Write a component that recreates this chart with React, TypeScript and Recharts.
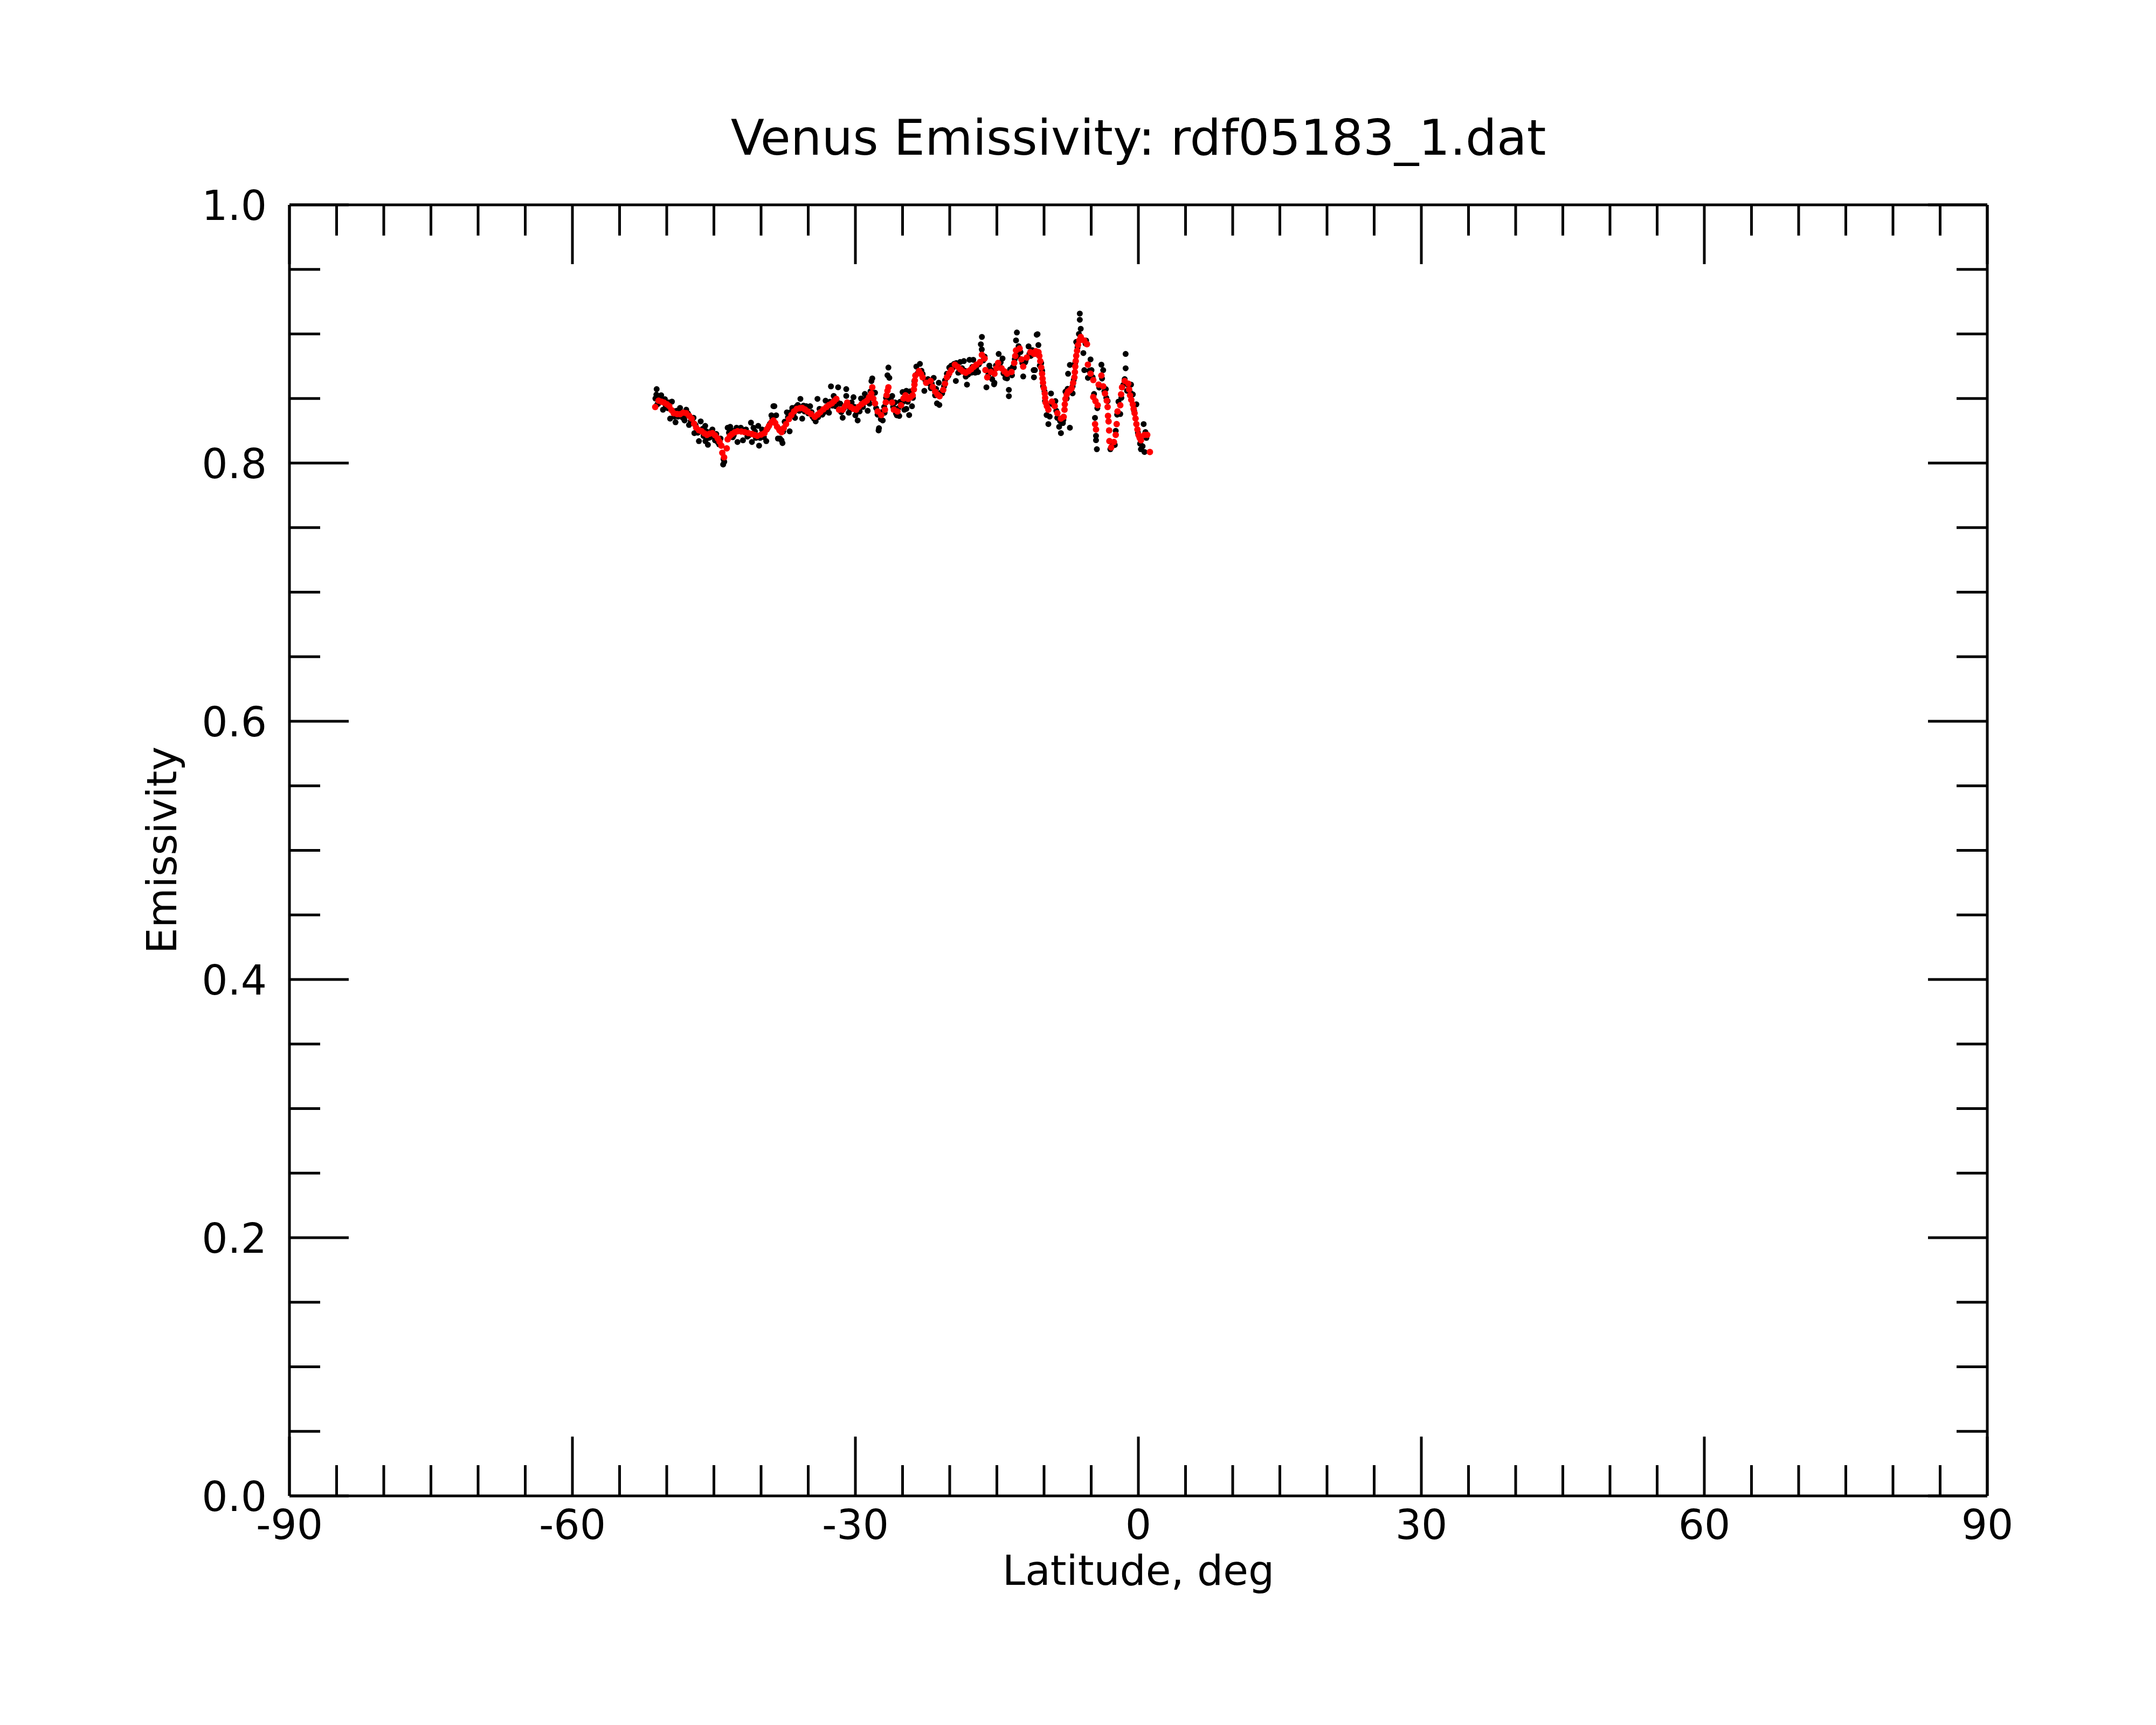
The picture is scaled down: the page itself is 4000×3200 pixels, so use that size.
import { ScatterChart, Scatter, XAxis, YAxis } from 'recharts';

// latitude (deg), emissivity — raw footprints (black)
const rawPoints: [number, number][] = [
  [-51.07, 0.8573], [-51.1, 0.853], [-51.2, 0.85], [-50.9, 0.846], [-50.59, 0.8525], [-50.4, 0.8413],
  [-50.1, 0.844], [-49.8, 0.847], [-49.45, 0.8476], [-49.64, 0.8344], [-49.07, 0.8316], [-48.8, 0.836],
  [-48.59, 0.8427], [-48.3, 0.835], [-47.93, 0.8413], [-48.11, 0.833], [-47.64, 0.8295], [-47.16, 0.8351],
  [-47.07, 0.8232], [-46.8, 0.826], [-46.59, 0.817], [-46.4, 0.8323], [-46.1, 0.821], [-45.92, 0.8288],
  [-45.9, 0.817], [-45.64, 0.8142], [-45.4, 0.82], [-45.16, 0.826], [-44.88, 0.8176], [-44.6, 0.8162],
  [-44.3, 0.819], [-44.02, 0.7989], [-43.9, 0.801], [-43.98, 0.803], [-43.54, 0.8274], [-43.27, 0.8281],
  [-43.0, 0.82], [-42.6, 0.8274], [-42.5, 0.8163], [-42.15, 0.8274], [-41.92, 0.8176], [-41.6, 0.826],
  [-41.3, 0.8215], [-41.07, 0.8313], [-40.97, 0.8163], [-40.8, 0.8274], [-40.55, 0.8195], [-40.3, 0.8288],
  [-40.21, 0.8135], [-39.9, 0.826], [-39.7, 0.82], [-39.45, 0.817], [-39.3, 0.827], [-38.69, 0.8441],
  [-38.9, 0.837], [-38.4, 0.837], [-38.21, 0.819], [-38.59, 0.8441], [-37.83, 0.8176], [-37.73, 0.8155],
  [-38.0, 0.819], [-37.5, 0.832], [-37.26, 0.8393], [-36.97, 0.8246], [-36.69, 0.8427], [-36.4, 0.835],
  [-36.1, 0.845], [-35.83, 0.8497], [-35.64, 0.8344], [-35.4, 0.84], [-35.2, 0.844], [-34.8, 0.844],
  [-34.55, 0.836], [-34.21, 0.8323], [-34.02, 0.8497], [-33.8, 0.842], [-33.5, 0.8375], [-33.16, 0.8483],
  [-32.95, 0.842], [-32.8, 0.839], [-32.59, 0.8594], [-32.3, 0.852], [-31.83, 0.8587], [-32.1, 0.844],
  [-31.6, 0.846], [-31.35, 0.8351], [-30.97, 0.8573], [-30.97, 0.852], [-30.7, 0.839], [-30.4, 0.847],
  [-30.2, 0.851], [-30.0, 0.837], [-29.76, 0.833], [-29.55, 0.84], [-29.4, 0.85], [-29.0, 0.8535],
  [-28.7, 0.8405], [-28.5, 0.846], [-28.21, 0.8656], [-28.3, 0.8635], [-27.92, 0.8545], [-27.54, 0.8253],
  [-27.5, 0.827], [-27.3, 0.834], [-27.1, 0.833], [-26.9, 0.839], [-26.5, 0.874], [-26.6, 0.868],
  [-26.4, 0.866], [-26.1, 0.852], [-25.8, 0.847], [-25.6, 0.837], [-25.35, 0.8365], [-25.0, 0.855],
  [-24.6, 0.856], [-24.6, 0.842], [-24.81, 0.8413], [-24.3, 0.8372], [-24.0, 0.844], [-24.2, 0.8555],
  [-23.54, 0.8747], [-23.16, 0.8768], [-22.87, 0.869], [-22.69, 0.8559], [-22.3, 0.865], [-22.0, 0.858],
  [-21.7, 0.866], [-21.55, 0.8525], [-21.16, 0.8622], [-21.35, 0.8462], [-21.1, 0.845], [-20.8, 0.854],
  [-20.5, 0.864], [-20.3, 0.8692], [-20.05, 0.874], [-19.83, 0.8755], [-19.54, 0.8768], [-19.35, 0.8636],
  [-19.1, 0.87], [-18.88, 0.8783], [-18.5, 0.879], [-18.17, 0.8608], [-18.3, 0.867], [-17.9, 0.88],
  [-17.7, 0.87], [-17.5, 0.88], [-17.3, 0.87], [-17.0, 0.8705], [-16.59, 0.8977], [-16.7, 0.892],
  [-16.6, 0.888], [-16.3, 0.8825], [-16.11, 0.8587], [-15.8, 0.8755], [-15.5, 0.865], [-15.26, 0.8622],
  [-15.3, 0.861], [-14.81, 0.8845], [-14.6, 0.878], [-14.4, 0.881], [-14.1, 0.866], [-13.92, 0.8656],
  [-13.73, 0.8567], [-13.73, 0.8518], [-13.4, 0.868], [-13.2, 0.874], [-12.88, 0.9011], [-12.97, 0.895],
  [-12.8, 0.883], [-12.5, 0.886], [-12.21, 0.8671], [-12.0, 0.878], [-11.64, 0.8904], [-11.4, 0.883],
  [-11.1, 0.872], [-11.07, 0.8664], [-10.78, 0.8994], [-10.69, 0.8998], [-10.6, 0.8914], [-10.97, 0.872],
  [-10.3, 0.8775], [-10.1, 0.8594], [-9.9, 0.848], [-9.73, 0.8372], [-9.54, 0.8302], [-9.4, 0.836],
  [-9.26, 0.8539], [-8.8, 0.848], [-8.6, 0.835], [-8.4, 0.8281], [-8.21, 0.8232], [-8.0, 0.831],
  [-7.73, 0.8553], [-7.6, 0.85], [-7.26, 0.8274], [-7.45, 0.8692], [-7.26, 0.876], [-6.97, 0.8595],
  [-6.97, 0.854], [-6.59, 0.8938], [-6.21, 0.9158], [-6.21, 0.911], [-6.11, 0.904], [-6.3, 0.9],
  [-5.83, 0.8852], [-5.54, 0.8949], [-5.07, 0.8803], [-5.73, 0.872], [-5.35, 0.866], [-4.97, 0.872],
  [-4.49, 0.8211], [-4.49, 0.8177], [-4.4, 0.8107], [-4.6, 0.835], [-3.92, 0.8762], [-3.73, 0.872],
  [-3.45, 0.8573], [-3.26, 0.848], [-2.97, 0.8107], [-2.8, 0.813], [-2.5, 0.814], [-2.4, 0.825],
  [-2.11, 0.8476], [-1.92, 0.838], [-1.35, 0.8845], [-1.35, 0.8734], [-1.45, 0.865], [-1.2, 0.856],
  [-0.78, 0.8608], [-0.59, 0.8532], [-0.21, 0.8455], [0.56, 0.8302], [0.27, 0.8107], [0.65, 0.8086],
  [0.18, 0.815], [0.75, 0.824], [0.45, 0.813],
  // footprints hugging the smoothed track
  [-51.0, 0.8455], [-50.7, 0.8505], [-50.2, 0.8495], [-49.9, 0.8425], [-49.35, 0.8405], [-49.2, 0.836],
  [-48.95, 0.8405], [-48.45, 0.8395], [-48.0, 0.8365], [-47.75, 0.8385], [-47.45, 0.8325], [-47.25, 0.8315],
  [-46.95, 0.8295], [-46.7, 0.8235], [-46.2, 0.8265], [-45.8, 0.8245], [-45.55, 0.8195], [-45.3, 0.8245],
  [-45.0, 0.8205], [-44.75, 0.8225], [-44.45, 0.8145], [-43.4, 0.8235], [-43.15, 0.8255], [-42.9, 0.8215],
  [-42.3, 0.8265], [-41.8, 0.8255], [-41.45, 0.8205], [-40.65, 0.8245], [-40.1, 0.8195], [-39.55, 0.8255],
  [-39.05, 0.8305], [-38.8, 0.8345], [-38.1, 0.8265], [-37.65, 0.8245], [-37.15, 0.8355], [-36.85, 0.8395],
  [-36.55, 0.8385], [-36.3, 0.8435], [-35.95, 0.8405], [-35.5, 0.8445], [-35.0, 0.8385], [-34.65, 0.8395],
  [-34.4, 0.8345], [-33.95, 0.8355], [-33.65, 0.8415], [-33.3, 0.8395], [-32.7, 0.8475], [-32.45, 0.8445],
  [-32.2, 0.8505], [-31.95, 0.8475], [-31.5, 0.8395], [-31.2, 0.8425], [-30.8, 0.8445], [-30.55, 0.8415],
  [-30.1, 0.8435], [-29.85, 0.8395], [-29.2, 0.8435], [-28.9, 0.8495], [-28.6, 0.8485], [-28.4, 0.8555],
  [-27.8, 0.8425], [-27.65, 0.8375], [-27.2, 0.8395], [-26.95, 0.8435], [-26.75, 0.8505], [-26.25, 0.8495],
  [-26.0, 0.8435], [-25.7, 0.8385], [-25.45, 0.8425], [-25.25, 0.8475], [-24.95, 0.8475], [-24.75, 0.8545],
  [-24.45, 0.8475], [-23.9, 0.8505], [-23.75, 0.8635], [-23.4, 0.8695], [-23.0, 0.8715], [-22.6, 0.8645],
  [-22.15, 0.8615], [-21.9, 0.8615], [-21.45, 0.8575], [-20.95, 0.8545], [-20.6, 0.8595], [-20.15, 0.8675],
  [-19.7, 0.8735], [-19.3, 0.8775], [-18.95, 0.8705], [-18.7, 0.8735], [-18.4, 0.8715], [-18.05, 0.8685],
  [-17.6, 0.8745], [-17.2, 0.8735], [-16.9, 0.8765], [-16.45, 0.8795], [-15.9, 0.8685], [-15.7, 0.8725],
  [-15.4, 0.8715], [-15.1, 0.8755], [-14.7, 0.8755], [-14.3, 0.8695], [-13.6, 0.8725], [-13.3, 0.8745],
  [-13.1, 0.8805], [-12.7, 0.8905], [-12.3, 0.8775], [-11.95, 0.8795], [-11.55, 0.8845], [-11.25, 0.8875],
  [-10.95, 0.8845], [-10.45, 0.8755], [-10.2, 0.8715], [-9.95, 0.8555], [-9.65, 0.8445], [-9.1, 0.8455],
  [-8.95, 0.8465], [-8.7, 0.8405], [-8.3, 0.8325], [-7.95, 0.8335], [-7.5, 0.8575], [-7.15, 0.8555],
  [-6.85, 0.8645], [-6.7, 0.8775], [-6.45, 0.8895], [-6.0, 0.8955], [-5.6, 0.8925], [-5.2, 0.8715],
  [-4.85, 0.8665], [-4.7, 0.8535], [-4.35, 0.8425], [-4.15, 0.8585], [-3.85, 0.8655], [-3.6, 0.8555],
  [-3.4, 0.8505], [-2.25, 0.8375], [-1.8, 0.8505], [-1.6, 0.8605], [-1.0, 0.8595], [-0.85, 0.8545],
  [-0.45, 0.8405], [-0.05, 0.8235], [0.1, 0.8205], [0.85, 0.8195],
];

// latitude (deg), emissivity — smoothed (red)
const smoothPoints: [number, number][] = [
  [-51.22, 0.8434], [-50.87, 0.8483], [-50.55, 0.8475], [-50.3, 0.8469], [-49.98, 0.8455], [-49.73, 0.8441],
  [-49.5, 0.841], [-49.26, 0.8386], [-48.9, 0.838], [-48.59, 0.8379], [-48.25, 0.839], [-47.93, 0.8386],
  [-47.62, 0.8365], [-47.36, 0.8344], [-47.1, 0.8305], [-46.88, 0.8274], [-46.6, 0.8255], [-46.3, 0.8246],
  [-46.0, 0.823], [-45.73, 0.8218], [-45.45, 0.8228], [-45.16, 0.8232], [-44.88, 0.8215], [-44.59, 0.819],
  [-44.4, 0.8165], [-44.21, 0.8135], [-44.11, 0.8079], [-43.92, 0.8045], [-43.64, 0.8114], [-43.54, 0.8184],
  [-43.3, 0.821], [-43.07, 0.8225], [-42.8, 0.8238], [-42.5, 0.8246], [-42.1, 0.8244], [-41.73, 0.8239],
  [-41.35, 0.8232], [-40.97, 0.8225], [-40.68, 0.8218], [-40.4, 0.8211], [-40.0, 0.822], [-39.64, 0.8232],
  [-39.4, 0.826], [-39.16, 0.8288], [-38.9, 0.8315], [-38.69, 0.833], [-38.5, 0.831], [-38.3, 0.8281],
  [-38.05, 0.8255], [-37.83, 0.8239], [-37.6, 0.827], [-37.35, 0.8302], [-37.05, 0.834], [-36.78, 0.8372],
  [-36.5, 0.84], [-36.21, 0.842], [-35.9, 0.8425], [-35.64, 0.8427], [-35.35, 0.8415], [-35.07, 0.84],
  [-34.7, 0.838], [-34.3, 0.8358], [-34.0, 0.8375], [-33.73, 0.8393], [-33.4, 0.8415], [-33.07, 0.8434],
  [-32.8, 0.845], [-32.5, 0.8462], [-32.25, 0.848], [-32.02, 0.8497], [-31.73, 0.8413], [-31.35, 0.8413],
  [-31.1, 0.844], [-30.87, 0.8469], [-30.5, 0.8434], [-30.2, 0.842], [-29.92, 0.8413], [-29.65, 0.8435],
  [-29.35, 0.8455], [-29.05, 0.847], [-28.78, 0.8483], [-28.55, 0.851], [-28.31, 0.8539], [-28.21, 0.8587],
  [-28.1, 0.85], [-27.92, 0.8462], [-27.64, 0.84], [-27.26, 0.8372], [-26.87, 0.8413], [-26.78, 0.847],
  [-26.69, 0.8525], [-26.6, 0.856], [-26.5, 0.8587], [-26.11, 0.8469], [-25.92, 0.8413], [-25.54, 0.84],
  [-25.16, 0.8448], [-24.9, 0.85], [-24.69, 0.8525], [-24.4, 0.8497], [-24.15, 0.851], [-23.93, 0.8525],
  [-23.8, 0.857], [-23.74, 0.8608], [-23.7, 0.864], [-23.64, 0.8678], [-23.26, 0.8713], [-23.05, 0.869],
  [-22.87, 0.8664], [-22.5, 0.8622], [-22.02, 0.8636], [-21.8, 0.859], [-21.54, 0.8553], [-21.3, 0.853],
  [-21.07, 0.8518], [-20.69, 0.8567], [-20.5, 0.8615], [-20.3, 0.8664], [-20.05, 0.8695], [-19.83, 0.872],
  [-19.45, 0.8762], [-19.15, 0.8745], [-18.88, 0.8727], [-18.6, 0.871], [-18.3, 0.8699], [-18.0, 0.8712],
  [-17.73, 0.8727], [-17.45, 0.8745], [-17.16, 0.8762], [-16.78, 0.8783], [-16.59, 0.8838], [-16.3, 0.881],
  [-16.21, 0.872], [-16.02, 0.8664], [-15.64, 0.8706], [-15.26, 0.8692], [-15.05, 0.8735], [-14.87, 0.8776],
  [-14.5, 0.8734], [-14.2, 0.871], [-13.92, 0.8692], [-13.45, 0.8706], [-13.16, 0.8776], [-13.05, 0.883],
  [-12.97, 0.8873], [-12.59, 0.8887], [-12.4, 0.8803], [-12.21, 0.8747], [-11.83, 0.8817], [-11.45, 0.8859],
  [-11.07, 0.8845], [-10.88, 0.8866], [-10.59, 0.8859], [-10.5, 0.883], [-10.4, 0.8789], [-10.3, 0.874],
  [-10.21, 0.8692], [-10.16, 0.8655], [-10.11, 0.8622], [-10.02, 0.858], [-9.92, 0.8539], [-9.88, 0.8505],
  [-9.83, 0.8469], [-9.7, 0.844], [-9.54, 0.8413], [-9.16, 0.8476], [-8.87, 0.8441], [-8.59, 0.8386],
  [-8.21, 0.8344], [-7.92, 0.8358], [-7.83, 0.8413], [-7.8, 0.8455], [-7.73, 0.8497], [-7.6, 0.853],
  [-7.45, 0.8553], [-7.25, 0.8565], [-7.07, 0.858], [-6.92, 0.862], [-6.78, 0.8664], [-6.73, 0.8705],
  [-6.69, 0.8747], [-6.64, 0.879], [-6.59, 0.8831], [-6.5, 0.887], [-6.4, 0.8914], [-6.25, 0.895],
  [-6.11, 0.8977], [-5.73, 0.8949], [-5.45, 0.8921], [-5.35, 0.8762], [-5.07, 0.8692], [-4.78, 0.8643],
  [-4.78, 0.8511], [-4.55, 0.848], [-4.31, 0.8448], [-4.59, 0.8302], [-4.49, 0.826], [-4.21, 0.8608],
  [-3.92, 0.8678], [-3.73, 0.8594], [-3.54, 0.8539], [-3.35, 0.8483], [-3.26, 0.8434], [-3.22, 0.8365],
  [-3.16, 0.8323], [-3.1, 0.8253], [-3.07, 0.817], [-2.88, 0.8121], [-2.59, 0.8163], [-2.4, 0.8218],
  [-2.3, 0.8302], [-2.21, 0.84], [-1.92, 0.8448], [-1.83, 0.8532], [-1.73, 0.8587], [-1.45, 0.8636],
  [-1.07, 0.8615], [-0.98, 0.857], [-0.88, 0.8525], [-0.75, 0.849], [-0.59, 0.8455], [-0.5, 0.842],
  [-0.4, 0.8386], [-0.3, 0.8345], [-0.21, 0.8302], [-0.1, 0.826], [0.01, 0.8218], [0.14, 0.8195],
  [0.27, 0.8176], [0.65, 0.8218], [0.94, 0.8218], [1.22, 0.8086],
];

const latTicks = [
  -90, -85, -80, -75, -70, -65, -60, -55, -50, -45, -40, -35, -30, -25, -20, -15, -10, -5,
  0, 5, 10, 15, 20, 25, 30, 35, 40, 45, 50, 55, 60, 65, 70, 75, 80, 85, 90,
];
const emisTicks = [
  0, 0.05, 0.1, 0.15, 0.2, 0.25, 0.3, 0.35, 0.4, 0.45, 0.5,
  0.55, 0.6, 0.65, 0.7, 0.75, 0.8, 0.85, 0.9, 0.95, 1.0,
];

const FONT = '"DejaVu Sans", sans-serif';
const LW = 5;
const MAJOR = 110;
const MINOR = 57;
const LABEL_SIZE = 76;

const rawData = rawPoints.map(([lat, emis]) => ({ lat, emis }));
const smoothData = smoothPoints.map(([lat, emis]) => ({ lat, emis }));

const isMajorLat = (v: number) => Math.round(v) % 30 === 0;
const isMajorEmis = (v: number) => Math.round(v * 20) % 4 === 0;

function BottomTick({ x, y, payload }: any) {
  const major = isMajorLat(payload.value);
  return (
    <g>
      <line x1={x} x2={x} y1={y} y2={y - (major ? MAJOR : MINOR)} stroke="#000" strokeWidth={LW} />
      {major && (
        <text x={x} y={y + 80} textAnchor="middle" fontSize={LABEL_SIZE} fontFamily={FONT} fill="#000">
          {String(payload.value)}
        </text>
      )}
    </g>
  );
}

function TopTick({ x, y, payload }: any) {
  const major = isMajorLat(payload.value);
  return <line x1={x} x2={x} y1={y} y2={y + (major ? MAJOR : MINOR)} stroke="#000" strokeWidth={LW} />;
}

function LeftTick({ x, y, payload }: any) {
  const major = isMajorEmis(payload.value);
  return (
    <g>
      <line x1={x} x2={x + (major ? MAJOR : MINOR)} y1={y} y2={y} stroke="#000" strokeWidth={LW} />
      {major && (
        <text x={x - 42} y={y + 28} textAnchor="end" fontSize={LABEL_SIZE} fontFamily={FONT} fill="#000">
          {payload.value.toFixed(1)}
        </text>
      )}
    </g>
  );
}

function RightTick({ x, y, payload }: any) {
  const major = isMajorEmis(payload.value);
  return <line x1={x} x2={x - (major ? MAJOR : MINOR)} y1={y} y2={y} stroke="#000" strokeWidth={LW} />;
}

const dot = (r: number, fill: string) => (p: any) => <circle cx={p.cx} cy={p.cy} r={r} fill={fill} />;

export default function App() {
  const axisLine = { stroke: '#000', strokeWidth: LW };
  return (
    <div style={{ position: 'relative', width: 4000, height: 3200, background: '#fff' }}>
      <style>{'body{margin:0}'}</style>
      <ScatterChart width={4000} height={3200} margin={{ top: 280, right: 213, bottom: 325, left: 437 }}>
        <XAxis
          xAxisId="b" orientation="bottom" dataKey="lat" type="number" domain={[-90, 90]}
          ticks={latTicks} interval={0} allowDataOverflow height={100}
          tickLine={false} tickSize={0} tickMargin={0} axisLine={axisLine} tick={<BottomTick />}
        />
        <XAxis
          xAxisId="t" orientation="top" dataKey="lat" type="number" domain={[-90, 90]}
          ticks={latTicks} interval={0} allowDataOverflow height={100}
          tickLine={false} tickSize={0} tickMargin={0} axisLine={axisLine} tick={<TopTick />}
        />
        <YAxis
          yAxisId="l" orientation="left" dataKey="emis" type="number" domain={[0, 1]}
          ticks={emisTicks} interval={0} allowDataOverflow width={100}
          tickLine={false} tickSize={0} tickMargin={0} axisLine={axisLine} tick={<LeftTick />}
        />
        <YAxis
          yAxisId="r" orientation="right" dataKey="emis" type="number" domain={[0, 1]}
          ticks={emisTicks} interval={0} allowDataOverflow width={100}
          tickLine={false} tickSize={0} tickMargin={0} axisLine={axisLine} tick={<RightTick />}
        />
        <Scatter data={rawData} xAxisId="b" yAxisId="l" shape={dot(5.5, '#000')} isAnimationActive={false} />
        <Scatter data={smoothData} xAxisId="t" yAxisId="r" shape={dot(6, '#ff0000')} isAnimationActive={false} />
      </ScatterChart>
      <svg width={4000} height={3200} style={{ position: 'absolute', left: 0, top: 0, pointerEvents: 'none' }}>
        <text x={2112} y={287} textAnchor="middle" fontSize={91} fontFamily={FONT} fill="#000">
          Venus Emissivity: rdf05183_1.dat
        </text>
        <text x={2112} y={2940} textAnchor="middle" fontSize={LABEL_SIZE} fontFamily={FONT} fill="#000">
          Latitude, deg
        </text>
        <text
          x={327} y={1577} textAnchor="middle" fontSize={LABEL_SIZE} fontFamily={FONT} fill="#000"
          transform="rotate(-90 327 1577)"
        >
          Emissivity
        </text>
      </svg>
    </div>
  );
}
